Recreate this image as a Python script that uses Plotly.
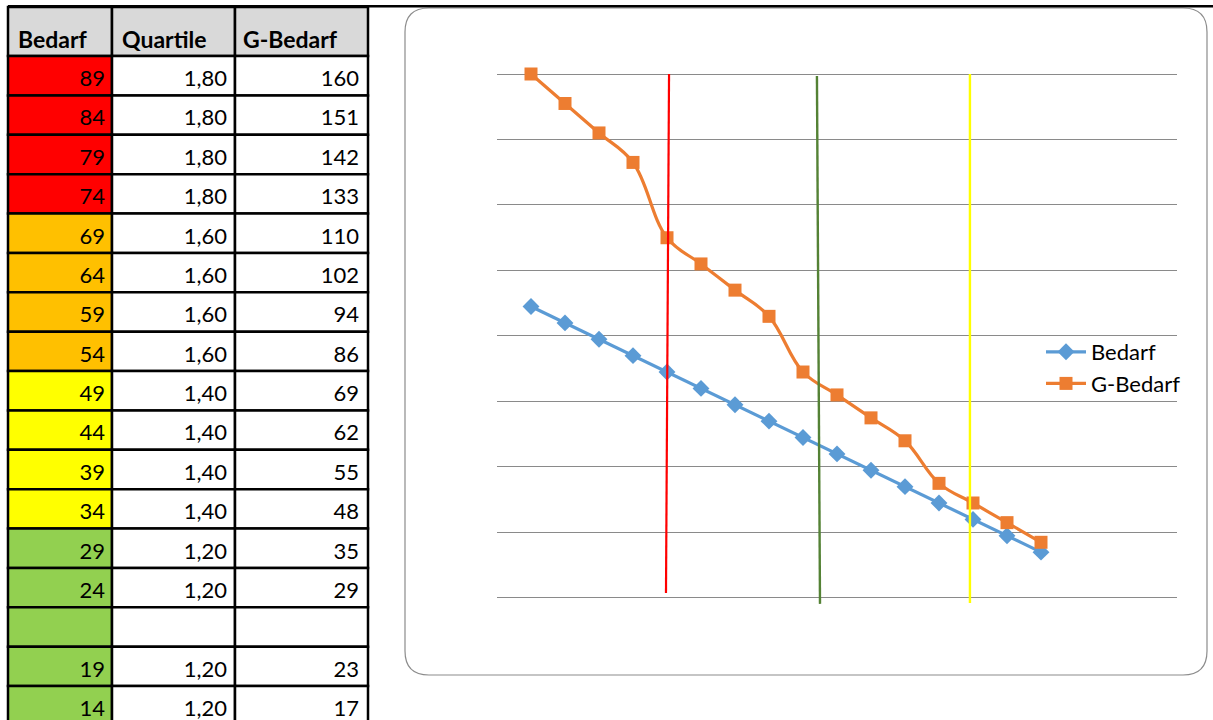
import plotly.graph_objects as go

# ---------------- data ----------------
headers = ["Bedarf", "Quartile", "G-Bedarf"]
bedarf = [89, 84, 79, 74, 69, 64, 59, 54, 49, 44, 39, 34, 29, 24, None, 19, 14]
quartile = [1.80, 1.80, 1.80, 1.80, 1.60, 1.60, 1.60, 1.60, 1.40, 1.40, 1.40, 1.40,
            1.20, 1.20, None, 1.20, 1.20]
g_bedarf = [160, 151, 142, 133, 110, 102, 94, 86, 69, 62, 55, 48, 35, 29, None, 23, 17]
band = ["red", "red", "red", "red", "orange", "orange", "orange", "orange",
        "yellow", "yellow", "yellow", "yellow", "green", "green", "green", "green", "green"]

band_colors = {"red": "#FF0000", "orange": "#FFC000", "yellow": "#FFFF00", "green": "#92D050"}
BLUE = "#5B9BD5"
ORANGE = "#ED7D31"
FONT = "Lato"

fig = go.Figure()

# ---------------- table (drawn on a pixel-unit helper axis pair) ----------------
col_edges = [8, 112, 235, 368]
header_top, header_bottom = 7, 56
row_h = 39.375
n_rows = len(bedarf)

shapes = []
for c in range(3):
    shapes.append(dict(type="rect", xref="x2", yref="y2",
                       x0=col_edges[c], x1=col_edges[c + 1], y0=header_top, y1=header_bottom,
                       fillcolor="#D9D9D9", line=dict(color="black", width=2.5), layer="below"))
for r in range(n_rows):
    y0 = header_bottom + r * row_h
    y1 = y0 + row_h
    for c in range(3):
        fill = band_colors[band[r]] if c == 0 else "white"
        shapes.append(dict(type="rect", xref="x2", yref="y2",
                           x0=col_edges[c], x1=col_edges[c + 1], y0=y0, y1=y1,
                           fillcolor=fill, line=dict(color="black", width=2.5), layer="below"))

shapes.append(dict(type="line", xref="x2", yref="y2", x0=8, x1=1213, y0=6.2, y1=6.2,
                   line=dict(color="black", width=2.5)))

L, R, T, B, rad = 405, 1207, 8, 675, 24
path = (f"M {L+rad},{T} L {R-rad},{T} Q {R},{T} {R},{T+rad} L {R},{B-rad} "
        f"Q {R},{B} {R-rad},{B} L {L+rad},{B} Q {L},{B} {L},{B-rad} L {L},{T+rad} Q {L},{T} {L+rad},{T} Z")
shapes.append(dict(type="path", xref="x2", yref="y2", path=path,
                   line=dict(color="#8C8C8C", width=1.2), fillcolor="rgba(0,0,0,0)", layer="below"))

hdr_x = [18, 122, 243]
fig.add_trace(go.Scatter(
    x=hdr_x, y=[42] * 3, text=[f"<b>{h}</b>" for h in headers], mode="text",
    textposition="middle right", textfont=dict(family=FONT, size=23, color="black"),
    xaxis="x2", yaxis="y2", showlegend=False, hoverinfo="skip", cliponaxis=False))

def fmt_q(v):
    return "" if v is None else f"{v:.2f}".replace(".", ",")

right_x = [105, 227, 359]
cols_text = [
    ["" if v is None else str(v) for v in bedarf],
    [fmt_q(v) for v in quartile],
    ["" if v is None else str(v) for v in g_bedarf],
]
for c in range(3):
    ys = [header_bottom + r * row_h + 24.5 for r in range(n_rows)]
    fig.add_trace(go.Scatter(
        x=[right_x[c]] * n_rows, y=ys, text=cols_text[c], mode="text",
        textposition="middle left", textfont=dict(family=FONT, size=22, color="black"),
        xaxis="x2", yaxis="y2", showlegend=False, hoverinfo="skip", cliponaxis=False))

# ---------------- chart ----------------
chart_bedarf = [v for v in bedarf if v is not None]
chart_g = [v for v in g_bedarf if v is not None]
xs = list(range(1, len(chart_bedarf) + 1))

fig.add_trace(go.Scatter(
    x=xs, y=chart_bedarf, name="Bedarf", mode="lines+markers",
    line=dict(color=BLUE, width=3.2),
    marker=dict(symbol="diamond", size=13, color=BLUE),
    cliponaxis=False, xaxis="x", yaxis="y"))
fig.add_trace(go.Scatter(
    x=xs, y=chart_g, name="G-Bedarf", mode="lines+markers",
    line=dict(color=ORANGE, width=3.2, shape="spline", smoothing=1.1),
    marker=dict(symbol="square", size=13, color=ORANGE),
    cliponaxis=False, xaxis="x", yaxis="y"))

shapes += [
    dict(type="line", xref="x", yref="y", x0=5.06, y0=160, x1=4.97, y1=1.5,
         line=dict(color="#FF0000", width=2.2)),
    dict(type="line", xref="x", yref="y", x0=9.41, y0=159.4, x1=9.50, y1=-1.8,
         line=dict(color="#548235", width=2.4)),
    dict(type="line", xref="x", yref="y", x0=13.91, y0=160, x1=13.91, y1=-1.5,
         line=dict(color="#FFFF00", width=2.4)),
]

fig.update_layout(
    width=1213, height=720,
    margin=dict(l=0, r=0, t=0, b=0),
    paper_bgcolor="white", plot_bgcolor="rgba(0,0,0,0)",
    shapes=shapes,
    showlegend=True,
    legend=dict(x=1041 / 1213, y=1 - 331 / 720, xanchor="left", yanchor="top",
                font=dict(family=FONT, size=22, color="black"),
                bgcolor="rgba(0,0,0,0)", tracegroupgap=0, itemwidth=40),
    xaxis=dict(domain=[497 / 1213, 1177 / 1213], range=[0, 20],
               showgrid=False, zeroline=False, showticklabels=False, ticks="",
               showline=False, fixedrange=True),
    yaxis=dict(domain=[1 - 607.8 / 720, 1 - 67.45 / 720], range=[-3, 162],
               tickvals=[0, 20, 40, 60, 80, 100, 120, 140, 160],
               showgrid=True, gridcolor="#8A8A8A", gridwidth=1.2,
               zeroline=False, showticklabels=False, ticks="", showline=False, fixedrange=True),
    xaxis2=dict(domain=[0, 1], range=[0, 1213], anchor="y2",
                showgrid=False, zeroline=False, showticklabels=False, ticks="",
                showline=False, fixedrange=True),
    yaxis2=dict(domain=[0, 1], range=[720, 0], anchor="x2",
                showgrid=False, zeroline=False, showticklabels=False, ticks="",
                showline=False, fixedrange=True),
)

fig.write_html("out.html", config={"displayModeBar": False},
               post_script="document.body.style.margin='0';")
